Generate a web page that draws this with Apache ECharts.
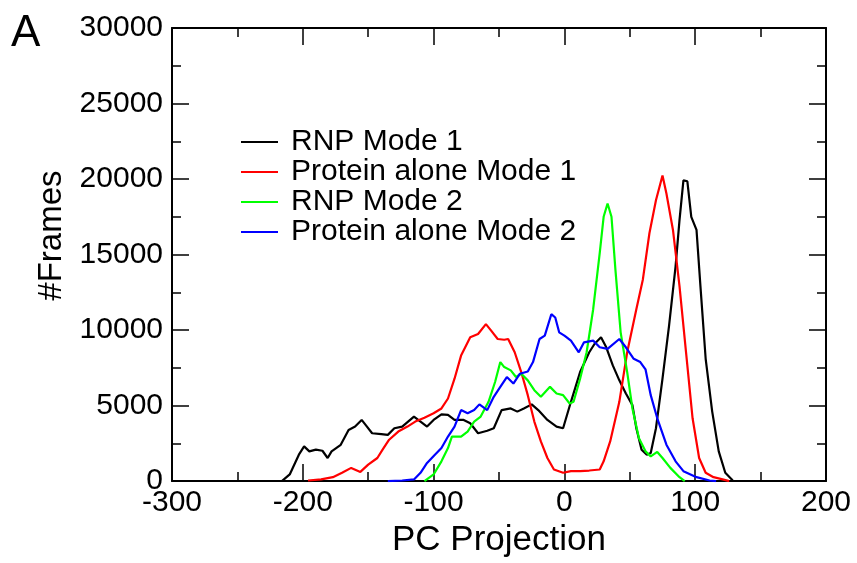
<!DOCTYPE html>
<html>
<head>
<meta charset="utf-8">
<script src="https://cdn.jsdelivr.net/npm/echarts@6/dist/echarts.min.js"></script>
<style>
  html, body { margin: 0; padding: 0; background: #fff; }
  #PcChart { width: 857px; height: 563px; }
</style>
</head>
<body>
<div id="PcChart"></div>
<script>
// series names
const names = ['RNP Mode 1', 'Protein alone Mode 1', 'RNP Mode 2', 'Protein alone Mode 2'];
const colors = ['#000000', '#ff0000', '#00ff00', '#0000ff'];

// RNP Mode 1
const rnp1X = [-216, -210, -203, -199, -195, -190, -185, -181, -178, -171, -165, -160, -155, -152, -147, -140, -135, -130, -124, -115, -110, -105, -100, -94, -89, -84, -77, -72, -66, -59, -54, -48, -41, -36, -31, -25, -20, -13, -6, -1, 5, 12, 19, 23, 28, 32, 37, 42, 47, 52, 55, 59, 63, 66, 70, 75, 80, 85, 88, 91, 94, 97, 101, 104, 108, 113, 118, 123, 128, 129];
const rnp1Y = [0, 440, 1750, 2300, 1970, 2080, 2010, 1530, 1970, 2400, 3390, 3610, 4050, 3720, 3170, 3110, 3060, 3500, 3610, 4270, 3940, 3610, 4050, 4420, 4380, 4050, 4050, 3830, 3170, 3330, 3500, 4700, 4810, 4600, 4810, 5080, 4700, 4050, 3610, 3500, 5250, 7220, 8530, 9080, 9520, 8860, 7660, 6670, 5800, 5030, 3500, 2080, 1750, 1860, 3500, 6780, 10280, 14220, 17280, 19910, 19850, 17500, 16630, 12910, 8100, 4600, 1970, 550, 110, 0];

// Protein alone Mode 1
const prot1X = [-196, -186, -177, -170, -163, -156, -150, -143, -139, -134, -127, -120, -114, -107, -100, -94, -89, -84, -79, -72, -66, -60, -56, -51, -46, -43, -38, -33, -28, -23, -18, -13, -8, -1, 5, 12, 19, 27, 30, 35, 42, 48, 55, 60, 65, 70, 75, 78, 83, 88, 93, 98, 103, 108, 114, 121, 126];
const prot1Y = [40, 110, 260, 550, 875, 610, 1090, 1530, 2080, 2740, 3280, 3610, 3940, 4200, 4490, 4810, 5470, 6780, 8310, 9520, 9740, 10390, 9960, 9410, 9360, 9410, 8530, 7220, 5690, 3940, 2630, 1530, 770, 550, 660, 660, 700, 770, 1310, 2630, 5250, 8530, 11380, 13350, 16410, 18600, 20240, 19040, 16630, 12910, 8530, 4160, 1530, 550, 260, 110, 0];

// RNP Mode 2
const rnp2X = [-107, -100, -94, -89, -86, -79, -74, -69, -64, -58, -53, -49, -46, -41, -37, -33, -28, -23, -18, -11, -6, -1, 4, 7, 12, 17, 22, 27, 30, 33, 36, 39, 43, 48, 52, 57, 62, 66, 71, 75, 81, 88, 92];
const rnp2Y = [0, 440, 1310, 2190, 2950, 2950, 3280, 3940, 4270, 5250, 6560, 7880, 7550, 7330, 6890, 7110, 6670, 6020, 5580, 6240, 5800, 5690, 5140, 5250, 6780, 8530, 11380, 15100, 17500, 18380, 17500, 14000, 9850, 7220, 4810, 2840, 1970, 1640, 1930, 1530, 875, 260, 0];

// Protein alone Mode 2
const prot2X = [-135, -124, -115, -110, -105, -99, -94, -89, -84, -79, -74, -69, -65, -59, -54, -49, -44, -39, -34, -28, -24, -19, -15, -10, -7, -4, 0, 5, 11, 15, 22, 27, 33, 42, 47, 53, 58, 62, 66, 71, 78, 85, 91, 101, 111, 116];
const prot2Y = [0, 40, 110, 550, 1200, 1750, 2190, 2950, 3610, 4700, 4490, 4700, 5080, 4700, 5580, 6240, 6890, 6460, 7110, 7260, 7880, 9410, 9630, 11050, 10830, 9850, 9630, 9300, 8530, 9190, 9300, 8860, 8750, 9410, 8860, 8100, 7880, 7400, 5690, 4160, 2410, 1310, 660, 260, 40, 0];

const xs = [rnp1X, prot1X, rnp2X, prot2X];
const ys = [rnp1Y, prot1Y, rnp2Y, prot2Y];

const FONT = '"Liberation Sans", Arial, sans-serif';

const PcChart = {};

PcChart.init = () => {
  PcChart.chart = echarts.init(document.getElementById('PcChart'));
};

PcChart.set = () => {
  let series = names.map((name, i) => ({
    name: name,
    type: 'line',
    symbol: 'none',
    smooth: false,
    lineStyle: { color: colors[i], width: 2.2 },
    itemStyle: { color: colors[i] },
    data: xs[i].map((x, k) => [x, ys[i][k]])
  }));

  let tick = {
    show: true,
    inside: true,
    length: 17,
    lineStyle: { color: '#000', width: 1.5 }
  };
  let minor = {
    show: true,
    splitNumber: 2,
    length: 9,
    lineStyle: { color: '#000', width: 1.5 }
  };
  let line = { show: true, onZero: false, lineStyle: { color: '#000', width: 2 } };

  let xBase = {
    type: 'value',
    min: -300,
    max: 200,
    interval: 100,
    axisLine: line,
    axisTick: tick,
    minorTick: minor,
    splitLine: { show: false }
  };
  let yBase = {
    type: 'value',
    min: 0,
    max: 30000,
    interval: 5000,
    axisLine: line,
    axisTick: tick,
    minorTick: minor,
    splitLine: { show: false }
  };

  let option = {
    animation: false,
    backgroundColor: '#fff',
    grid: { left: 172, right: 31, top: 28, bottom: 79 },
    graphic: [{
      type: 'text',
      left: 11,
      top: 12,
      style: { text: 'A', font: '44px ' + FONT, fill: '#000' }
    }],
    legend: {
      orient: 'vertical',
      left: 236,
      top: 122,
      icon: 'rect',
      itemWidth: 37,
      itemHeight: 2,
      itemGap: 0,
      data: names,
      textStyle: {
        fontFamily: FONT,
        fontSize: 30,
        color: '#000',
        lineHeight: 30,
        padding: [0, 0, 0, 8]
      }
    },
    xAxis: [
      Object.assign({}, xBase, {
        position: 'bottom',
        name: 'PC Projection',
        nameLocation: 'middle',
        nameGap: 36,
        nameTextStyle: { fontFamily: FONT, fontSize: 35, color: '#000' },
        axisLabel: { fontFamily: FONT, fontSize: 30, color: '#000', margin: 7 }
      }),
      Object.assign({}, xBase, { position: 'top', axisLabel: { show: false } })
    ],
    yAxis: [
      Object.assign({}, yBase, {
        position: 'left',
        name: '#Frames',
        nameLocation: 'middle',
        nameGap: 101,
        nameTextStyle: { fontFamily: FONT, fontSize: 33, color: '#000', padding: [0, 0, 0, 38] },
        axisLabel: {
          fontFamily: FONT, fontSize: 30, color: '#000', margin: 9,
          formatter: (v) => String(v)
        }
      }),
      Object.assign({}, yBase, { position: 'right', axisLabel: { show: false } })
    ],
    series: series
  };

  PcChart.chart.setOption(option);
};

PcChart.init();
PcChart.set();
</script>
</body>
</html>
